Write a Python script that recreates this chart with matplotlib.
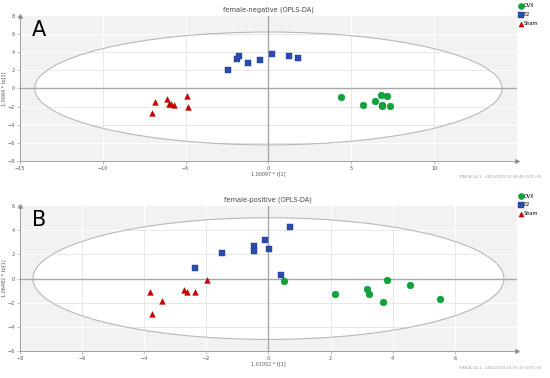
import matplotlib.pyplot as plt
from matplotlib.patches import Ellipse

# panel A: female-negative
a_ovx_x = [4.38, 5.73, 6.43, 6.80, 7.18, 6.86, 6.84, 7.36]
a_ovx_y = [-0.96, -1.77, -1.40, -0.74, -0.85, -1.77, -1.92, -1.92]
a_e2_x = [-2.46, -1.87, -1.75, -1.23, -0.50, 0.22, 1.25, 1.80]
a_e2_y = [1.99, 3.27, 3.53, 2.76, 3.16, 3.76, 3.53, 3.31]
a_sham_x = [-6.84, -7.02, -6.09, -5.99, -5.87, -5.70, -4.94, -4.84]
a_sham_y = [-1.48, -2.76, -1.18, -1.73, -1.73, -1.85, -0.85, -2.07]

# panel B: female-positive
b_ovx_x = [0.49, 2.14, 3.17, 3.25, 3.70, 3.81, 4.55, 5.51]
b_ovx_y = [-0.19, -1.26, -0.85, -1.29, -1.95, -0.13, -0.50, -1.68]
b_e2_x = [-2.35, -1.49, -0.46, -0.46, -0.11, 0.03, 0.70, 0.41]
b_e2_y = [0.91, 2.10, 2.73, 2.26, 3.17, 2.43, 4.27, 0.28]
b_sham_x = [-3.81, -3.73, -3.43, -2.73, -2.63, -2.35, -1.96]
b_sham_y = [-1.12, -2.92, -1.82, -0.91, -1.12, -1.12, -0.10]

panels = [
    dict(letter="A", title="female-negative (OPLS-DA)", xlabel="1.00097 * t[1]",
         ylabel="1.0064 * to[1]", stamp="SIMCA 14.1 - 2021/5/20 10:28:48 (UTC+8)",
         xlim=(-15, 15), ylim=(-8, 8), xticks=range(-15, 15, 5), yticks=range(-8, 9, 2),
         xgrid=range(-10, 15, 5), ygrid=range(-6, 8, 2), ell=(14.1, 6.22),
         ovx=(a_ovx_x, a_ovx_y), e2=(a_e2_x, a_e2_y), sham=(a_sham_x, a_sham_y),
         rect=[0.036, 0.574, 0.904, 0.384], stamp_y=0.53),
    dict(letter="B", title="female-positive (OPLS-DA)", xlabel="1.01052 * t[1]",
         ylabel="1.06482 * to[1]", stamp="SIMCA 14.1 - 2021/5/20 10:37:33 (UTC+8)",
         xlim=(-8, 8), ylim=(-6, 6), xticks=range(-8, 8, 2), yticks=range(-6, 7, 2),
         xgrid=range(-6, 8, 2), ygrid=range(-4, 6, 2), ell=(7.58, 5.03),
         ovx=(b_ovx_x, b_ovx_y), e2=(b_e2_x, b_e2_y), sham=(b_sham_x, b_sham_y),
         rect=[0.036, 0.071, 0.904, 0.384], stamp_y=0.025),
]

fig = plt.figure(figsize=(5.5, 3.78), dpi=100)

for p in panels:
    ax = fig.add_axes(p["rect"])
    ax.set_facecolor("#f2f2f2")
    ax.set_xlim(*p["xlim"])
    ax.set_ylim(*p["ylim"])

    # white grid over the grey part
    for gx in p["xgrid"]:
        ax.axvline(gx, color="white", lw=0.8, zorder=0.2)
    for gy in p["ygrid"]:
        ax.axhline(gy, color="white", lw=0.8, zorder=0.2)

    w, h = p["ell"]
    ell = Ellipse((0, 0), 2 * w, 2 * h, facecolor="white", edgecolor="none", zorder=0.5)
    ax.add_patch(ell)
    # light grey grid inside the ellipse
    for gx in p["xgrid"]:
        ln = ax.axvline(gx, color="#e4e4e4", lw=0.6, zorder=0.6)
        ln.set_clip_path(ell)
    for gy in p["ygrid"]:
        ln = ax.axhline(gy, color="#e4e4e4", lw=0.6, zorder=0.6)
        ln.set_clip_path(ell)
    ax.add_patch(Ellipse((0, 0), 2 * w, 2 * h, facecolor="none", edgecolor="#b8b8b8",
                         lw=0.8, zorder=1))

    ax.axhline(0, color="#a8a8a8", lw=1.0, zorder=1.2)
    ax.axvline(0, color="#a8a8a8", lw=1.0, zorder=1.2)

    ax.scatter(*p["ovx"], s=24, marker="o", color="#0fa33c", edgecolors="#0b8a30",
               linewidths=0.3, zorder=3, label="OVX")
    ax.scatter(*p["e2"], s=17, marker="s", color="#2a4cb0", edgecolors="#1c3a90",
               linewidths=0.3, zorder=3, label="E2")
    ax.scatter(*p["sham"], s=17, marker="^", color="#cc0000", edgecolors="#a00000",
               linewidths=0.3, zorder=3, label="Sham")

    for s in ["top", "right"]:
        ax.spines[s].set_visible(False)
    for s in ["left", "bottom"]:
        ax.spines[s].set_color("#909090")
        ax.spines[s].set_linewidth(0.6)
    ax.plot(1, 0, ">", transform=ax.transAxes, color="#909090", ms=2.5, clip_on=False)
    ax.plot(0, 1, "^", transform=ax.transAxes, color="#909090", ms=2.5, clip_on=False)

    ax.set_xticks(list(p["xticks"]))
    ax.set_yticks(list(p["yticks"]))
    ax.set_ylim(*p["ylim"])
    ax.tick_params(labelsize=3.5, length=2, width=0.4, color="#909090",
                   labelcolor="#555555", pad=1.5)

    ax.set_title(p["title"], fontsize=4.8, color="#444444", pad=3)
    ax.set_xlabel(p["xlabel"], fontsize=3.5, color="#555555", labelpad=0.5)
    ax.set_ylabel(p["ylabel"], fontsize=3.5, color="#555555", labelpad=1)
    ax.text(0.024, 0.86, p["letter"], transform=ax.transAxes, fontsize=15,
            color="black", zorder=5)

    ax.legend(loc="upper left", bbox_to_anchor=(0.995, 1.11), frameon=False,
              fontsize=3.6, handletextpad=0.1, labelspacing=0.75, handlelength=1,
              markerscale=0.9, borderaxespad=0.3)

    fig.text(0.985, p["stamp_y"], p["stamp"], ha="right", fontsize=2.8, color="#9a9a9a")

fig.savefig("out.png", dpi=100)
